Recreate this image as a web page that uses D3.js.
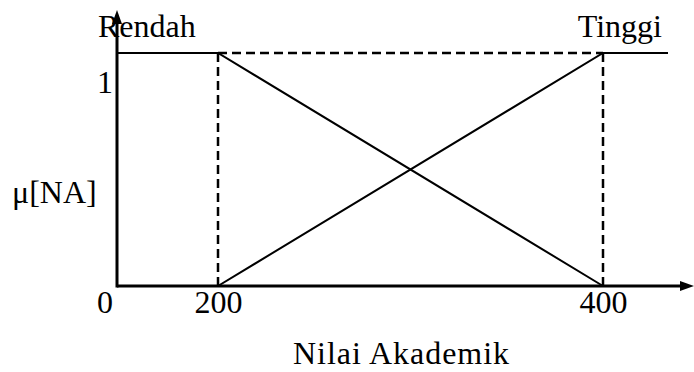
<!DOCTYPE html>
<html>
<head>
<meta charset="utf-8">
<script src="https://cdn.jsdelivr.net/npm/d3@7"></script>
<style>
  html, body { margin: 0; padding: 0; background: #fff; }
  svg text { font-family: "Liberation Serif", "Times New Roman", serif; fill: #000; }
</style>
</head>
<body>
<div id="chart"></div>
<script>
// ── Data ─────────────────────────────────────
const xTicks   = [200, 400];
const xOrigin  = 0;
const xEnd     = 450;           // right end of the "Tinggi" plateau
const yTickTop = 1;
const rendah   = [[0, 1], [200, 1], [400, 0]];
const tinggi   = [[200, 0], [400, 1], [450, 1]];
const guides   = [200, 400];    // dashed verticals
const labelLow  = "Rendah";
const labelHigh = "Tinggi";
const yTitle   = "μ[NA]";
const xTitle   = "Nilai Akademik";

(function () {
  const W = 694, H = 372;
  const FONT = 32;

  const svg = d3.select("#chart").append("svg")
    .attr("width", W).attr("height", H);

  // schematic (piecewise) x scale
  const x = d3.scaleLinear()
    .domain([xOrigin, xTicks[0], xTicks[1], xEnd])
    .range([117, 218, 603, 668]);
  const y = d3.scaleLinear().domain([0, yTickTop]).range([286, 53]);

  const line = d3.line().x(d => x(d[0])).y(d => y(d[1]));

  // dashed guides
  guides.forEach(v => {
    svg.append("line")
      .attr("x1", x(v)).attr("x2", x(v))
      .attr("y1", y(0)).attr("y2", y(1))
      .attr("stroke", "#000").attr("stroke-width", 2.5)
      .attr("stroke-dasharray", "9,5");
  });
  svg.append("line")
    .attr("x1", x(guides[0])).attr("x2", x(guides[1]))
    .attr("y1", y(1)).attr("y2", y(1))
    .attr("stroke", "#000").attr("stroke-width", 2.5)
    .attr("stroke-dasharray", "9,5");

  // membership functions
  [rendah, tinggi].forEach(s => {
    svg.append("path").datum(s)
      .attr("d", line)
      .attr("fill", "none").attr("stroke", "#000").attr("stroke-width", 2);
  });

  // axes
  const ax = svg.append("g")
    .attr("transform", `translate(0,${y(0)})`)
    .call(d3.axisBottom(x).tickValues(xTicks).tickSize(0).tickPadding(0));
  ax.select(".domain").remove();
  ax.selectAll("text").attr("font-size", FONT).attr("font-family", null)
    .attr("dy", null).attr("y", 313 - y(0));

  svg.append("line")
    .attr("x1", x(xOrigin)).attr("x2", 682)
    .attr("y1", y(0)).attr("y2", y(0))
    .attr("stroke", "#000").attr("stroke-width", 3);
  svg.append("path")
    .attr("d", `M694,${y(0)} L680,${y(0) - 5} L680,${y(0) + 5} Z`)
    .attr("fill", "#000");

  svg.append("line")
    .attr("x1", x(xOrigin)).attr("x2", x(xOrigin))
    .attr("y1", y(0) + 1.5).attr("y2", 22)
    .attr("stroke", "#000").attr("stroke-width", 3);
  svg.append("path")
    .attr("d", `M${x(xOrigin)},10 L${x(xOrigin) - 5},24 L${x(xOrigin) + 5},24 Z`)
    .attr("fill", "#000");

  // labels
  const txt = (tx, ty, s, anchor) => svg.append("text")
    .attr("x", tx).attr("y", ty).attr("font-size", FONT)
    .attr("text-anchor", anchor || "middle").text(s);

  txt(x(xOrigin) - 12, 313, String(xOrigin));
  txt(x(xOrigin) - 12, 93, String(yTickTop));
  txt(98, 37, labelLow, "start");
  txt(662, 37, labelHigh, "end");
  txt(12, 203, yTitle, "start");
  txt(401, 364, xTitle).attr("textLength", 216);
})();
</script>
</body>
</html>
